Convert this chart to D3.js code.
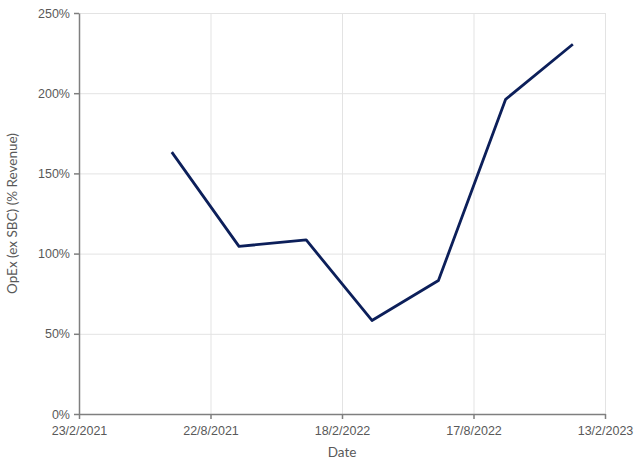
<!DOCTYPE html>
<html lang='en'>
<head>
	<meta charset='UTF-8'/>
	<title>OpEx (ex SBC) (% Revenue)</title>
	<script src='https://cdnjs.cloudflare.com/ajax/libs/d3/7.8.5/d3.min.js'></script>
	<style>
		body {margin: 0; background: #fff;}
		svg {display: block; font-family: Lato, 'Open Sans', sans-serif;}
		.tick text {fill: #595959; font-size: 12.5px;}
		.grid line {stroke: #e3e3e3; stroke-width: 1;}
		.grid .domain {display: none;}
	</style>
</head>
<body>
	<div class='graph'></div>
	<script>
		// data (quarter ends)
		const dates = ['2021-06-30', '2021-09-30', '2021-12-31', '2022-03-31', '2022-06-30', '2022-09-30', '2022-12-31'];
		const opex = [1.633, 1.045, 1.085, 0.583, 0.832, 1.962, 2.305];
		const xTicks = ['2021-02-23', '2021-08-22', '2022-02-18', '2022-08-17', '2023-02-13'];
		const yTicks = [0, 0.5, 1, 1.5, 2, 2.5];

		const width = 640, height = 464;
		const margin = {top: 13, right: 35, bottom: 50, left: 79};
		const parse = d3.utcParse('%Y-%m-%d');
		const fmtDate = d => d.getUTCDate() + '/' + (d.getUTCMonth() + 1) + '/' + d.getUTCFullYear();

		const svg = d3.select('.graph')
			.append('svg')
			.attr('width', width)
			.attr('height', height);

		const x = d3.scaleUtc()
			.domain([parse(xTicks[0]), parse(xTicks[xTicks.length - 1])])
			.range([margin.left, width - margin.right]);
		const y = d3.scaleLinear()
			.domain([0, 2.5])
			.range([height - margin.bottom, margin.top]);

		// gridlines
		svg.append('g')
			.attr('class', 'grid')
			.attr('transform', 'translate(0,' + (height - margin.bottom) + ')')
			.call(d3.axisBottom(x).tickValues(xTicks.map(parse)).tickSize(-(height - margin.top - margin.bottom)).tickFormat(''));
		svg.append('g')
			.attr('class', 'grid')
			.attr('transform', 'translate(' + margin.left + ',0)')
			.call(d3.axisLeft(y).tickValues(yTicks).tickSize(-(width - margin.left - margin.right)).tickFormat(''));

		// axes
		const xAxis = svg.append('g')
			.attr('transform', 'translate(0,' + (height - margin.bottom) + ')')
			.call(d3.axisBottom(x).tickValues(xTicks.map(parse)).tickSize(5).tickSizeOuter(0).tickFormat(fmtDate));
		const yAxis = svg.append('g')
			.attr('transform', 'translate(' + margin.left + ',0)')
			.call(d3.axisLeft(y).tickValues(yTicks).tickSize(5).tickSizeOuter(0).tickFormat(d3.format('.0%')));
		[xAxis, yAxis].forEach(a => {
			a.selectAll('.domain, .tick line').attr('stroke', '#7f7f7f').attr('stroke-width', 1.5);
		});
		xAxis.selectAll('.tick text').attr('dy', '1.05em');
		yAxis.selectAll('.tick text').attr('dx', '-1px');

		// axis titles
		svg.append('text')
			.attr('x', (margin.left + width - margin.right) / 2)
			.attr('y', height - 7)
			.attr('text-anchor', 'middle')
			.attr('fill', '#595959')
			.style('font-size', '13.5px')
			.text('Date');
		svg.append('text')
			.attr('transform', 'rotate(-90)')
			.attr('x', -(margin.top + height - margin.bottom) / 2)
			.attr('y', 17)
			.attr('text-anchor', 'middle')
			.attr('fill', '#595959')
			.style('font-size', '13.5px')
			.text('OpEx (ex SBC) (% Revenue)');

		// line
		const line = d3.line()
			.x((d, i) => x(parse(dates[i])))
			.y(d => y(d));
		svg.append('path')
			.datum(opex)
			.attr('fill', 'none')
			.attr('stroke', '#0c1f5a')
			.attr('stroke-width', 2.8)
			.attr('stroke-linejoin', 'round')
			.attr('d', line);
	</script>
</body>
</html>
